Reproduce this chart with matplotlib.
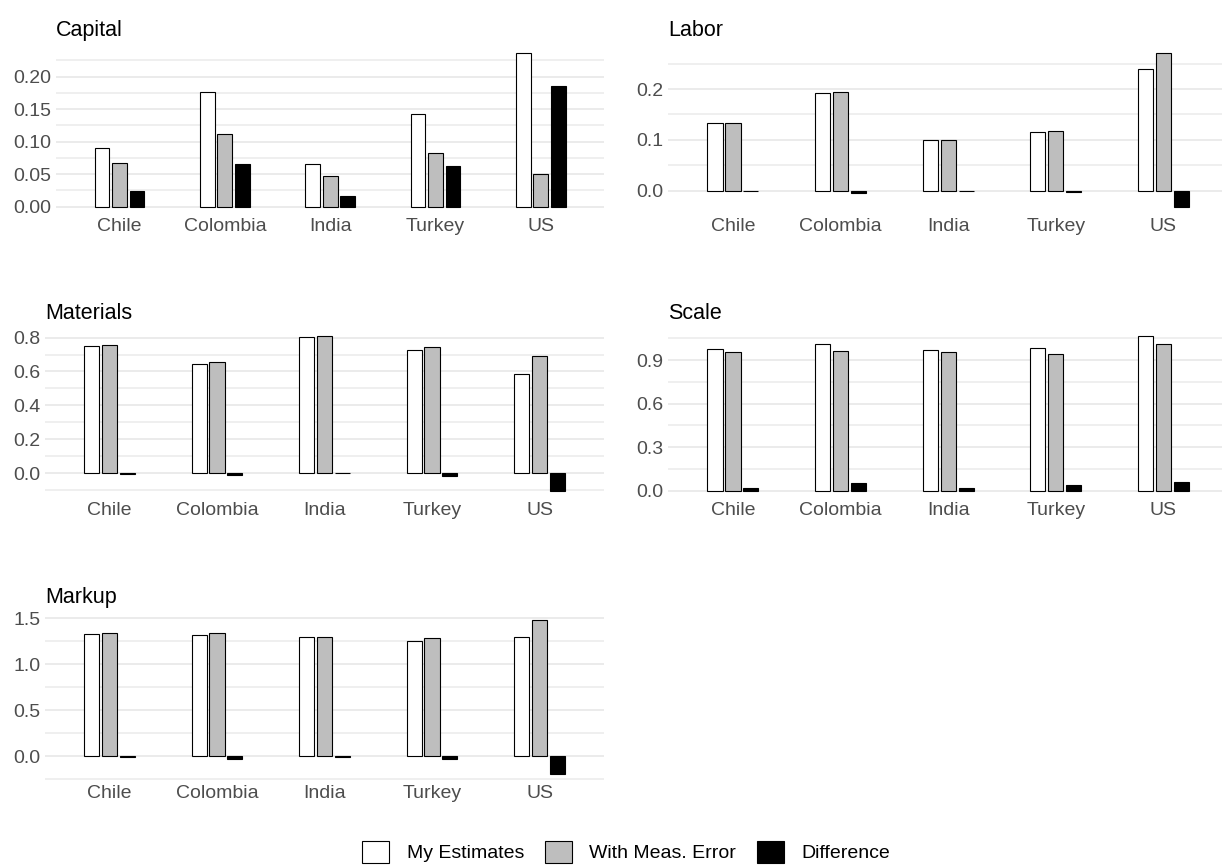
import matplotlib
matplotlib.use("Agg")
import matplotlib.pyplot as plt
from matplotlib.patches import Patch
from matplotlib.ticker import MultipleLocator, FormatStrFormatter
import numpy as np

plt.rcParams["font.family"] = ["Liberation Sans", "DejaVu Sans"]

countries = ["Chile", "Colombia", "India", "Turkey", "US"]

capital_mine = [0.091, 0.176, 0.065, 0.143, 0.237]
capital_meas = [0.067, 0.112, 0.048, 0.082, 0.051]
capital_diff = [0.024, 0.065, 0.017, 0.062, 0.186]

labor_mine = [0.134, 0.1915, 0.099, 0.115, 0.240]
labor_meas = [0.134, 0.195, 0.099, 0.118, 0.2715]
labor_diff = [-0.001, -0.004, -0.001, -0.003, -0.0315]

materials_mine = [0.751, 0.644, 0.806, 0.725, 0.587]
materials_meas = [0.755, 0.656, 0.808, 0.743, 0.690]
materials_diff = [-0.004, -0.012, -0.002, -0.018, -0.104]

scale_mine = [0.974, 1.013, 0.969, 0.981, 1.064]
scale_meas = [0.955, 0.960, 0.955, 0.944, 1.011]
scale_diff = [0.019, 0.055, 0.016, 0.041, 0.058]

markup_mine = [1.329, 1.322, 1.297, 1.253, 1.293]
markup_meas = [1.337, 1.344, 1.297, 1.282, 1.486]
markup_diff = [-0.008, -0.025, -0.003, -0.030, -0.196]

series_names = ["My Estimates", "With Meas. Error", "Difference"]
fills = ["white", "#BEBEBE", "black"]

W, H = 1222, 865
fig = plt.figure(figsize=(W / 100, H / 100), dpi=100)


def add_panel(left, top, right, bottom):
    return fig.add_axes([left / W, 1 - bottom / H, (right - left) / W, (bottom - top) / H])


def draw_panel(ax, title, mine, meas, diff, step, fmt):
    x = np.arange(len(countries))
    for k, vals in enumerate([mine, meas, diff]):
        ax.bar(x + (k - 1) * 0.1667, vals, width=0.14, color=fills[k],
               edgecolor="black", linewidth=0.8, zorder=3)
    allv = list(mine) + list(meas) + list(diff) + [0]
    lo, hi = min(allv), max(allv)
    pad = 0.05 * (hi - lo)
    ax.set_ylim(lo - pad, hi + pad)
    ax.set_xlim(-0.6, len(countries) - 0.4)
    ax.yaxis.set_major_locator(MultipleLocator(step))
    ax.yaxis.set_minor_locator(MultipleLocator(step / 2))
    ax.yaxis.set_major_formatter(FormatStrFormatter(fmt))
    ax.set_xticks(x)
    ax.set_xticklabels(countries)
    ax.grid(axis="y", which="major", color="#EBEBEB", linewidth=1.4, zorder=0)
    ax.grid(axis="y", which="minor", color="#EBEBEB", linewidth=1.1, zorder=0)
    ax.set_axisbelow(True)
    for s in ax.spines.values():
        s.set_visible(False)
    ax.tick_params(axis="both", which="both", length=0, labelsize=14,
                   labelcolor="#4D4D4D")
    ax.tick_params(axis="x", pad=2.5)
    ax.tick_params(axis="y", pad=3.5)
    ax.set_title(title, loc="left", fontsize=15.5, pad=6.5, color="black")


ax1 = add_panel(56.3, 45, 604, 214.4)
draw_panel(ax1, "Capital", capital_mine, capital_meas, capital_diff, 0.05, "%.2f")

ax2 = add_panel(668.4, 45, 1228, 214.4)
draw_panel(ax2, "Labor", labor_mine, labor_meas, labor_diff, 0.1, "%.1f")

ax3 = add_panel(45, 328.5, 604, 498.4)
draw_panel(ax3, "Materials", materials_mine, materials_meas, materials_diff, 0.2, "%.1f")

ax4 = add_panel(668.4, 328.5, 1228, 498.4)
draw_panel(ax4, "Scale", scale_mine, scale_meas, scale_diff, 0.3, "%.1f")

ax5 = add_panel(45, 612, 604, 782)
draw_panel(ax5, "Markup", markup_mine, markup_meas, markup_diff, 0.5, "%.1f")

handles = [Patch(facecolor=fills[k], edgecolor="black", linewidth=0.8) for k in range(3)]
fig.legend(handles, series_names, loc="center", bbox_to_anchor=(626 / W, 1 - 852 / H),
           ncol=3, frameon=False, fontsize=14, handlelength=1.4, handleheight=1.4,
           handletextpad=0.9, columnspacing=1.05, borderpad=0, borderaxespad=0)

fig.savefig("out.png", dpi=100)
